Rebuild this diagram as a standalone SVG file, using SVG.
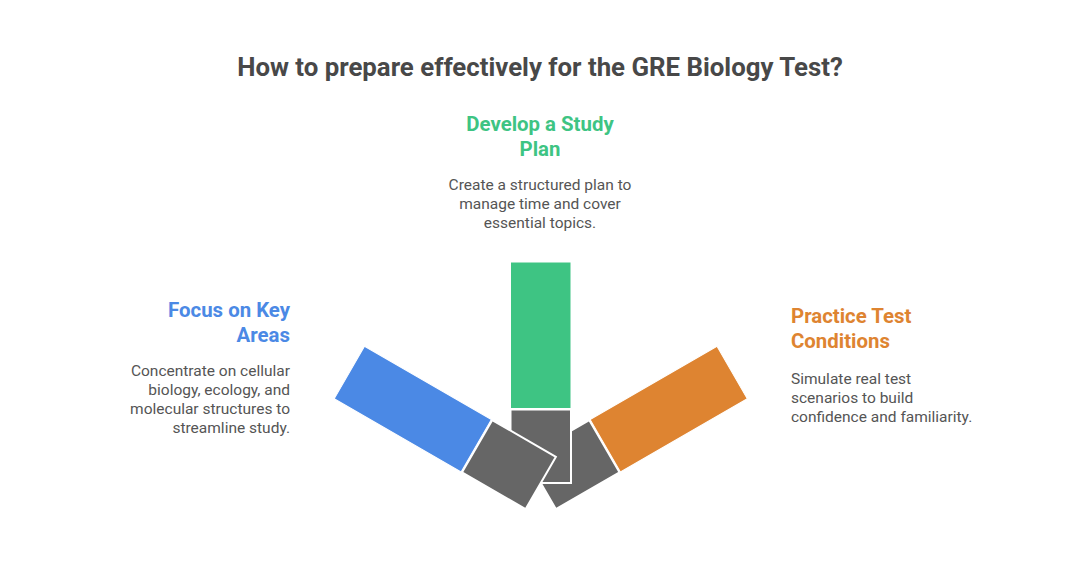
<svg xmlns="http://www.w3.org/2000/svg" width="1080" height="565" viewBox="0 0 1080 565">
<style>
.title{font-family:Roboto,"Liberation Sans",sans-serif;font-weight:700;font-size:25.8px;fill:#484848}
.head{font-family:Roboto,"Liberation Sans",sans-serif;font-weight:700;font-size:20.4px}
.body{font-family:Roboto,"Liberation Sans",sans-serif;font-size:15.5px;fill:#555555}
.gray{fill:#666666;stroke:#ffffff;stroke-width:2}
.bar{stroke:#ffffff;stroke-width:1}
</style>
<rect width="1080" height="565" fill="#ffffff"/>
<text class="title" x="540" y="76" text-anchor="middle">How to prepare effectively for the GRE Biology Test?</text>
<g id="arms">
  <g id="practice-arm" transform="rotate(60 540.75 483)">
    <rect class="gray" x="510.5" y="409.5" width="60.5" height="73.5"/>
    <rect class="bar" x="510.5" y="262" width="60.5" height="146.5" fill="#DE8431"/>
  </g>
  <g id="study-arm">
    <rect class="bar" x="510.5" y="262" width="60.5" height="146.5" fill="#3EC483"/>
    <rect class="gray" x="510.5" y="409.5" width="60.5" height="73.5"/>
  </g>
  <g id="focus-arm" transform="rotate(-60 540.75 483)">
    <rect class="gray" x="510.5" y="409.5" width="60.5" height="73.5"/>
    <rect class="bar" x="510.5" y="262" width="60.5" height="146.5" fill="#4B89E5"/>
  </g>
</g>
<g id="focus">
  <text class="head" fill="#4B89E5" text-anchor="end"><tspan x="290" y="317">Focus on Key</tspan><tspan x="290" y="342">Areas</tspan></text>
  <text class="body" text-anchor="end"><tspan x="290" y="376">Concentrate on cellular</tspan><tspan x="290" y="395">biology, ecology, and</tspan><tspan x="290" y="414">molecular structures to</tspan><tspan x="290" y="433">streamline study.</tspan></text>
</g>
<g id="study">
  <text class="head" fill="#3EC483" text-anchor="middle"><tspan x="540" y="131">Develop a Study</tspan><tspan x="540" y="156">Plan</tspan></text>
  <text class="body" text-anchor="middle"><tspan x="540" y="190">Create a structured plan to</tspan><tspan x="540" y="209">manage time and cover</tspan><tspan x="540" y="228">essential topics.</tspan></text>
</g>
<g id="practice">
  <text class="head" fill="#DE8431"><tspan x="791" y="323">Practice Test</tspan><tspan x="791" y="348">Conditions</tspan></text>
  <text class="body"><tspan x="791" y="384">Simulate real test</tspan><tspan x="791" y="403">scenarios to build</tspan><tspan x="791" y="422">confidence and familiarity.</tspan></text>
</g>
</svg>
